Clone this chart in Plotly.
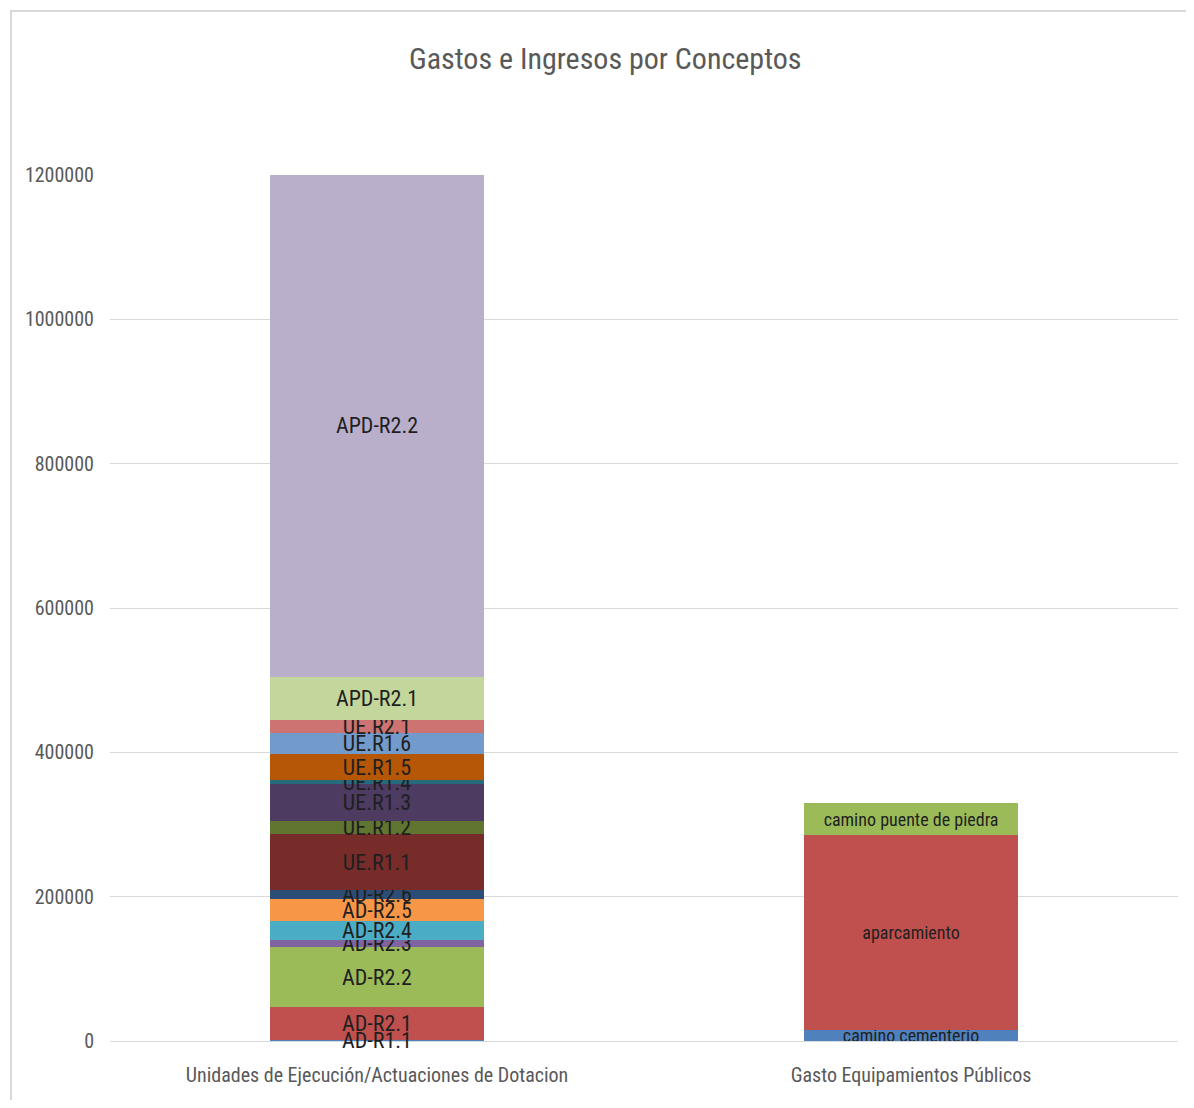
import plotly.graph_objects as go

categories = ["Unidades de Ejecución/Actuaciones de Dotacion", "Gasto Equipamientos Públicos"]

# Left bar stacked series (bottom to top)
left_labels = ["AD-R1.1", "AD-R2.1", "AD-R2.2", "AD-R2.3", "AD-R2.4", "AD-R2.5", "AD-R2.6",
               "UE.R1.1", "UE.R1.2", "UE.R1.3", "UE.R1.4", "UE.R1.5", "UE.R1.6", "UE.R2.1",
               "APD-R2.1", "APD-R2.2"]
left_values = [1500, 45500, 83000, 9500, 26500, 30500, 12500,
               77500, 18500, 51000, 5500, 36000, 29000, 18500,
               59000, 697000]
left_colors = ["#4F81BD", "#C0504D", "#9BBB59", "#8064A2", "#4BACC6", "#F79646", "#2C4D75",
               "#772C2A", "#5F7530", "#4D3B62", "#276A7C", "#B65708", "#729ACA", "#CD7371",
               "#C3D69B", "#B9AFCB"]

# Right bar stacked series (bottom to top)
right_labels = ["camino cementerio", "aparcamiento", "camino puente de piedra"]
right_values = [15000, 270000, 45000]
right_colors = ["#4F81BD", "#C0504D", "#9BBB59"]

y_ticks = [0, 200000, 400000, 600000, 800000, 1000000, 1200000]

FONT = "Roboto Condensed, Liberation Sans Narrow, sans-serif"

fig = go.Figure()
for i, (lab, val, col) in enumerate(zip(left_labels, left_values, left_colors)):
    fig.add_trace(go.Bar(
        x=[categories[0]], y=[val], name=lab, marker=dict(color=col, line=dict(width=0)),
        text=[lab if i != 0 else ""], textposition="inside", insidetextanchor="middle",
        constraintext="none",
        textfont=dict(family=FONT, size=22, color="#1f1f1f"), textangle=0,
    ))
for i, (lab, val, col) in enumerate(zip(right_labels, right_values, right_colors)):
    fig.add_trace(go.Bar(
        x=[categories[1]], y=[val], name=lab, marker=dict(color=col, line=dict(width=0)),
        text=[lab], textposition="inside", insidetextanchor="middle", constraintext="none",
        textfont=dict(family=FONT, size=18, color="#1f1f1f"), textangle=0,
    ))

# label of the (near-zero) bottom segment, centred on its value (not clipped by the axes)
fig.add_annotation(
    x=categories[0], y=left_values[0] / 2, xref="x", yref="y", text=left_labels[0],
    showarrow=False, xanchor="center", yanchor="middle",
    font=dict(family=FONT, size=22, color="#1f1f1f"),
)

fig.update_layout(
    barmode="stack",
    bargap=0.6,
    width=1178, height=1092,
    paper_bgcolor="white", plot_bgcolor="white",
    showlegend=False,
    margin=dict(l=102, r=8, t=167, b=59),
    title=dict(text="Gastos e Ingresos por Conceptos", x=0.507, xanchor="center",
               y=1 - 50 / 1092, yanchor="middle",
               font=dict(family=FONT, size=30, color="#595959")),
    font=dict(family=FONT, color="#595959"),
    xaxis=dict(categoryorder="array", categoryarray=categories, showgrid=False,
               showline=True, linecolor="#d9d9d9", linewidth=1, ticks="",
               ticklabelstandoff=16,
               tickfont=dict(size=20, color="#595959")),
    yaxis=dict(range=[0, 1200000], tickvals=y_ticks, ticktext=[str(v) for v in y_ticks],
               showgrid=True, gridcolor="#d9d9d9", gridwidth=1, zeroline=False,
               showline=False, ticks="", ticklabelstandoff=15,
               tickfont=dict(size=20, color="#595959")),
    shapes=[dict(type="rect", xref="paper", yref="paper",
                 x0=-99 / 1068, x1=1 + 40 / 1068, y0=-1, y1=1 + 164 / 866,
                 line=dict(color="#d9d9d9", width=2), fillcolor="rgba(0,0,0,0)", layer="below")],
)

fig.write_html("out.html")
